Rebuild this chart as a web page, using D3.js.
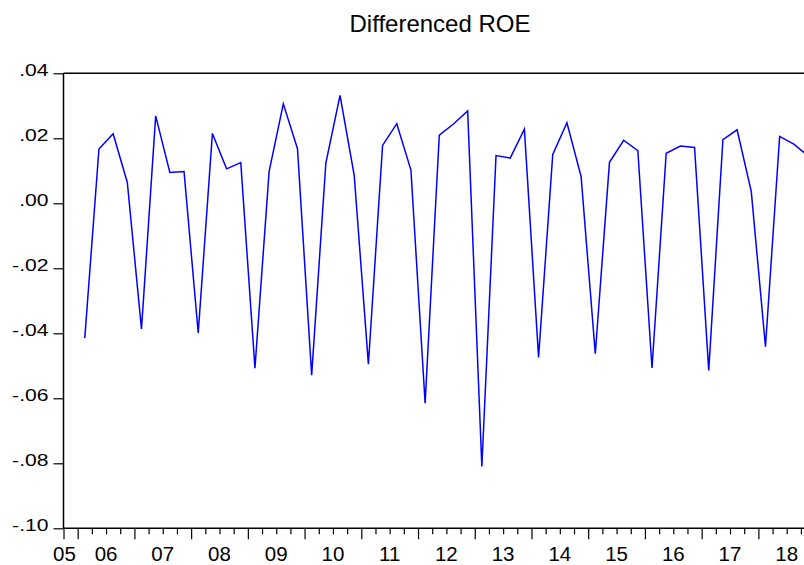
<!DOCTYPE html>
<html>
<head>
<meta charset="utf-8">
<script src="https://cdn.jsdelivr.net/npm/d3@7"></script>
<style>
  html, body { margin: 0; padding: 0; background: #fff; }
  svg { display: block; }
  text { font-family: "Liberation Sans", Arial, sans-serif; fill: #000; }
</style>
</head>
<body>
<div id="chart"></div>
<script>
// ---- data ----
const title = "Differenced ROE";
const years = [2006, 2007, 2008, 2009, 2010, 2011, 2012, 2013, 2014, 2015, 2016, 2017, 2018];
const q1 = [-0.0415, -0.0387, -0.0399, -0.0507, -0.0529, -0.0495, -0.0615, -0.0810, -0.0474, -0.0463, -0.0507, -0.0514, -0.0441];
const q2 = [ 0.0167,  0.0269,  0.0215,  0.0098,  0.0124,  0.0178,  0.0210,  0.0147,  0.0150,  0.0126,  0.0154,  0.0196,  0.0206];
const q3 = [ 0.0214,  0.0095,  0.0106,  0.0306,  0.0332,  0.0245,  0.0244,  0.0139,  0.0248,  0.0194,  0.0176,  0.0226,  0.0182];
const q4 = [ 0.0064,  0.0098,  0.0125,  0.0168,  0.0086,  0.0102,  0.0284,  0.0228,  0.0082,  0.0162,  0.0172,  0.0036,  0.0146];
const yTickValues = [0.04, 0.02, 0.00, -0.02, -0.04, -0.06, -0.08, -0.10];
const yTickLabels = [".04", ".02", ".00", "-.02", "-.04", "-.06", "-.08", "-.10"];
const xYearLabels = ["05", "06", "07", "08", "09", "10", "11", "12", "13", "14", "15", "16", "17", "18"];
const xLabelYears = [2005, 2006, 2007, 2008, 2009, 2010, 2011, 2012, 2013, 2014, 2015, 2016, 2017, 2018];

// build series (quarter center positions)
const series = [];
years.forEach((y, i) => {
  [q1[i], q2[i], q3[i], q4[i]].forEach((v, q) => {
    series.push({ t: y + q / 4 + 0.125, v: v });
  });
});

const W = 804, H = 565;
const svg = d3.select("#chart").append("svg").attr("width", W).attr("height", H);

const x = d3.scaleLinear().domain([2005.75, 2019.0]).range([63.5, 815.1]);
const y = d3.scaleLinear().domain([-0.10, 0.04]).range([528.3, 73.3]);

// title
svg.append("text")
  .attr("x", 440).attr("y", 31.5)
  .attr("text-anchor", "middle")
  .style("font-size", "24px")
  .text(title);

// frame (left, top, bottom)
const frame = svg.append("g").attr("stroke", "#000").attr("stroke-width", 1.5).attr("fill", "none");
frame.append("line").attr("x1", x.range()[0]).attr("x2", x.range()[1]).attr("y1", y(0.04)).attr("y2", y(0.04));
frame.append("line").attr("x1", x.range()[0]).attr("x2", x.range()[0]).attr("y1", y(0.04)).attr("y2", y(-0.10));
frame.append("line").attr("x1", x.range()[0]).attr("x2", x.range()[1]).attr("y1", y(-0.10)).attr("y2", y(-0.10));

// y axis ticks
const yAxis = d3.axisLeft(y)
  .tickValues(yTickValues)
  .tickSize(10)
  .tickFormat("");
const gy = svg.append("g").attr("transform", `translate(${x.range()[0]},0)`).call(yAxis);
gy.select(".domain").remove();
gy.selectAll(".tick line").attr("stroke", "#000").attr("stroke-width", 1.2);

// y labels (wide glyphs as in reference)
svg.append("g").selectAll("text")
  .data(yTickValues)
  .join("text")
  .attr("transform", d => `translate(48.5,${y(d) + 3}) scale(1.28,1)`)
  .attr("text-anchor", "end")
  .style("font-size", "16.5px")
  .text((d, i) => yTickLabels[i]);

// x axis: quarterly minor ticks, yearly major ticks
const quarterTicks = d3.range(0, 54).map(k => 2005.75 + k * 0.25).filter(t => t <= 2019.0001);
const isMajor = t => Math.abs(t - Math.round(t)) < 1e-6 || t === 2005.75;
const xAxisMinor = d3.axisBottom(x).tickValues(quarterTicks.filter(t => !isMajor(t))).tickSize(6).tickFormat("");
const xAxisMajor = d3.axisBottom(x).tickValues(quarterTicks.filter(isMajor)).tickSize(11).tickFormat("");
const gx1 = svg.append("g").attr("transform", `translate(0,${y(-0.10)})`).call(xAxisMinor);
const gx2 = svg.append("g").attr("transform", `translate(0,${y(-0.10)})`).call(xAxisMajor);
[gx1, gx2].forEach(g => {
  g.select(".domain").remove();
  g.selectAll(".tick line").attr("stroke", "#000").attr("stroke-width", 1.2);
});

// year labels
svg.append("g").selectAll("text")
  .data(xLabelYears)
  .join("text")
  .attr("x", (d) => d === 2005 ? 64.5 : x(d + 0.5))
  .attr("y", 560.5)
  .attr("text-anchor", "middle")
  .style("font-size", "20.5px")
  .text((d, i) => xYearLabels[i]);

// line
const line = d3.line().x(d => x(d.t)).y(d => y(d.v));
svg.append("path")
  .datum(series)
  .attr("fill", "none")
  .attr("stroke", "#0000ff")
  .attr("stroke-width", 1.5)
  .attr("stroke-linejoin", "miter")
  .attr("d", line);
</script>
</body>
</html>
